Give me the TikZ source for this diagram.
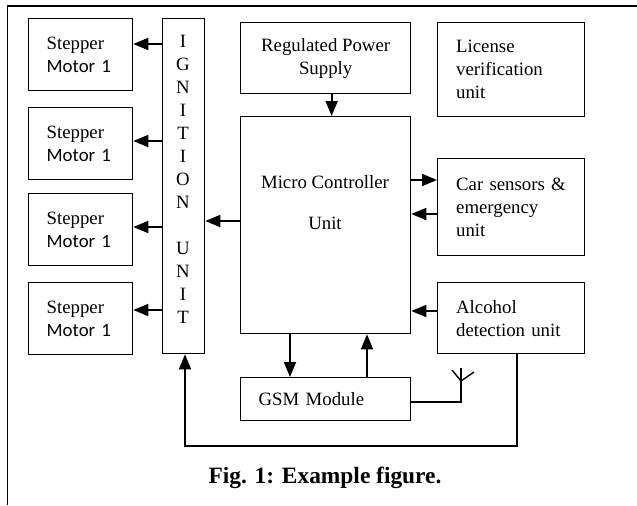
\documentclass[tikz,border=0pt]{standalone}
\usepackage{fontspec}
\setmainfont{Liberation Serif}
\newfontfamily\motorfont{Carlito}
\usetikzlibrary{arrows.meta}

\begin{document}
\begin{tikzpicture}[
  blk/.style={draw,line width=0.65pt,inner sep=0pt,anchor=north west},
  lblk/.style={blk,align=left,inner xsep=9.25pt},
  arr/.style={-{Triangle[length=7.5pt,width=6pt]},line width=0.9pt},
  wire/.style={line width=0.7pt},
  every node/.style={font=\fontsize{9.4}{11.5}\selectfont},
  x=0.5pt,y=-0.5pt
]
  \useasboundingbox (0,0) rectangle (637,505);
  \draw[line width=1.3pt] (7,6) -- (637,6);
  \draw[line width=0.5pt] (7,6) -- (7,505);

  % ignition column and the motors
  \node[blk,minimum width=21pt,minimum height=167.5pt] (ign) at (162,18) {};
  \node[align=center] (igntext) at (183,179) {I\\G\\N\\I\\T\\I\\O\\N\\[11.5pt]U\\N\\I\\T};
  \foreach \i/\top/\ay in {1/18/44,2/107/141,3/193/227,4/282/310} {
    \node[lblk,text width=34pt,inner xsep=9pt,minimum height=36pt] (m\i) at (28,\top) {Stepper\\{\motorfont Motor 1}};
    \draw[arr] (ign.west |- 0,\ay) -- (m\i.east |- 0,\ay);
  }

  % controller and its blocks
  \node[blk,minimum width=85pt,minimum height=35.5pt,align=center] (rps) at (240,22) {Regulated Power\\Supply};
  \node[blk,minimum width=85pt,minimum height=108.5pt] (mcu) at (240,116) {};
  \node[align=center] (mcutext) at (325,203) {Micro Controller\\[9pt]Unit};
  \node[lblk,text width=67pt,inner xsep=9pt,minimum height=21.5pt] (gsm) at (240,377) {GSM Module};
  \node[lblk,text width=55pt,minimum height=47pt] (lic) at (437,22) {License\\verification\\unit};
  \node[lblk,text width=55pt,minimum height=48.5pt] (car) at (437,158) {Car sensors \&\\emergency\\unit};
  \node[lblk,text width=55pt,minimum height=35.5pt] (alc) at (437,282) {Alcohol\\detection unit};

  \draw[arr] ([xshift=3pt]rps.south) -- ([xshift=3pt]mcu.north);
  \draw[arr] (mcu.west |- 0,221) -- (ign.east |- 0,221);
  \draw[arr] (mcu.east |- 0,180) -- (car.west |- 0,180);
  \draw[arr] (car.west |- 0,214) -- (mcu.east |- 0,214);
  \draw[arr] (alc.west |- 0,311) -- (mcu.east |- 0,311);
  \draw[arr] (mcu.south -| 290,0) -- (gsm.north -| 290,0);
  \draw[arr] (gsm.north -| 367,0) -- (mcu.south -| 367,0);

  % antenna
  \coordinate (ant) at (461,381);
  \draw[wire] (gsm.east |- 0,402) -| (ant) -- (461,368);
  \draw[wire] (452,370) -- (ant) -- (474,372);

  % feedback to ignition
  \draw[arr] (alc.south -| 517,0) |- (185,446) -- (ign.south -| 185,0);

  \node[font=\fontsize{11.7}{14}\selectfont\bfseries] (cap) at (325,478) {Fig. 1: Example figure.};
\end{tikzpicture}
\end{document}
